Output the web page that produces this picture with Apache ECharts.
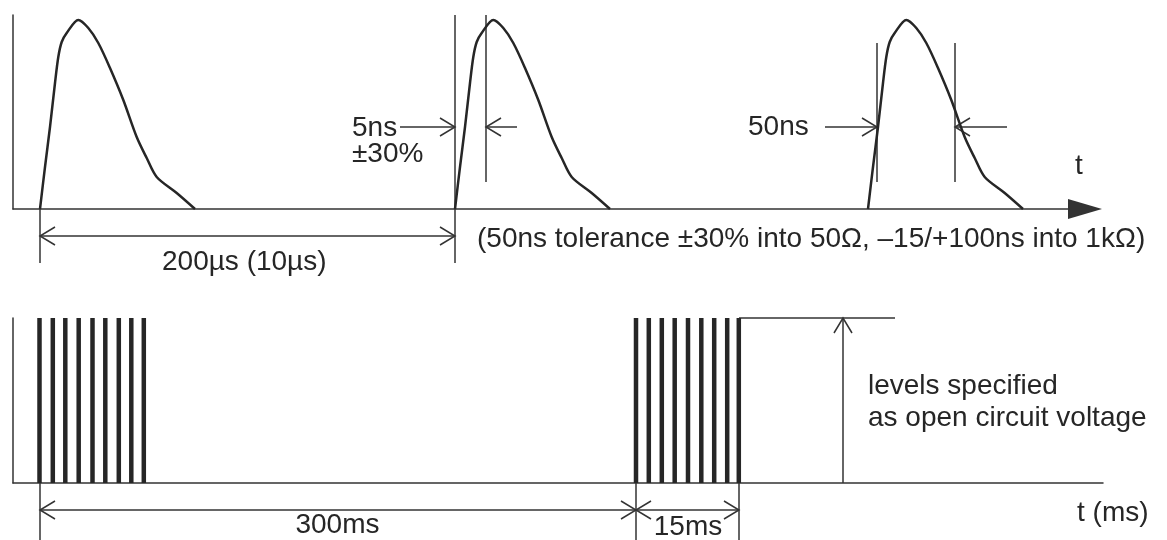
<!DOCTYPE html>
<html><head><meta charset="utf-8">
<script src="https://cdn.jsdelivr.net/npm/echarts@6/dist/echarts.min.js"></script>
<style>html,body{margin:0;padding:0;background:#fff}#c{width:1167px;height:540px}</style>
</head><body><div id="c"></div>
<script>
// ---- data, in diagram units (top panel: origin where the pulse axes meet; bottom panel: origin where the burst axes meet) ----
const pulseStarts = [27, 442, 855];
const pulseShapeDx = [0, 5, 10, 15, 18.3, 21.7, 26.7, 38.3, 48.3, 58.3, 70, 83.3, 96.7, 106.7, 116.7, 136.7, 155];
const pulseShapeLevel = [0, 42, 82, 126, 152, 167, 176, 189, 181, 166, 141, 109, 72, 51, 32, 16, 0];

const burstA = [26.5, 39.8, 52.3, 65.7, 79.5, 92.3, 105.8, 118.3, 130.8];
const burstB = [623, 635.8, 648.8, 661.7, 675, 688.3, 701.2, 714.2, 725.8];
const burstLevel = 165;

// guide segments: [x1, y1, x2, y2, arrowAtStart, arrowAtEnd]
const topMarks = [
  [442, 194, 442, -54, 0, 0],
  [473, 194, 473, 27, 0, 0],
  [387, 82, 442, 82, 0, 1],
  [504, 82, 473, 82, 0, 1],
  [864, 166, 864, 27, 0, 0],
  [942, 166, 942, 27, 0, 0],
  [812, 82, 864, 82, 0, 1],
  [994, 82, 942, 82, 0, 1],
  [27, 0, 27, -54, 0, 0],
  [27, -27, 442, -27, 1, 1]
];
const bottomMarks = [
  [726, 165, 882, 165, 0, 0],
  [830, 0, 830, 165, 0, 1],
  [27, 0, 27, -57, 0, 0],
  [623, 0, 623, -57, 0, 0],
  [726, 0, 726, -57, 0, 0],
  [27, -27, 623, -27, 1, 1],
  [623, -27, 726, -27, 1, 1]
];

// labels: [x, y, text, align]
const topLabels = [
  [339, 81, '5ns', 'left'],
  [339, 55, '±30%', 'left'],
  [735, 82, '50ns', 'left'],
  [1066, 43, 't', 'center'],
  [464, -30, '(50ns tolerance ±30% into 50Ω, –15/+100ns into 1kΩ)', 'left'],
  [149, -53, '200µs (10µs)', 'left']
];
const bottomLabels = [
  [855, 97, 'levels specified', 'left'],
  [855, 65, 'as open circuit voltage', 'left'],
  [1064, -30, 't (ms)', 'left'],
  [324.5, -42, '300ms', 'center'],
  [675, -44, '15ms', 'center']
];

// ---- styles ----
const LINE = '#333333';
const CURVE = '#262626';
const TEXT = '#262626';
const FONT = '28px "Liberation Sans", Arial, sans-serif';
const HEAD_LEN = 15, HEAD_HALF = 9;
const BAR_W = 4.5;

function segRender(params, api) {
  const p1 = api.coord([api.value(0), api.value(1)]);
  const p2 = api.coord([api.value(2), api.value(3)]);
  const children = [{ type: 'line', shape: { x1: p1[0], y1: p1[1], x2: p2[0], y2: p2[1] },
    style: { stroke: LINE, lineWidth: 1.5 } }];
  function head(tip, from) {
    const dx = tip[0] - from[0], dy = tip[1] - from[1];
    const len = Math.hypot(dx, dy) || 1;
    const ux = dx / len, uy = dy / len;
    const bx = tip[0] - ux * HEAD_LEN, by = tip[1] - uy * HEAD_LEN;
    const px = -uy, py = ux;
    children.push({ type: 'polyline', shape: { points: [[bx + px * HEAD_HALF, by + py * HEAD_HALF], tip, [bx - px * HEAD_HALF, by - py * HEAD_HALF]] },
      style: { stroke: LINE, lineWidth: 1.5, fill: null } });
  }
  if (api.value(4)) head(p1, p2);
  if (api.value(5)) head(p2, p1);
  return { type: 'group', children };
}

function makeTextRender(list) {
  return function (params, api) {
    const item = list[params.dataIndex];
    const p = api.coord([api.value(0), api.value(1)]);
    return { type: 'text', x: p[0], y: p[1],
      style: { text: item[2], font: FONT, fill: TEXT, align: item[3], verticalAlign: 'middle' } };
  };
}

function barRender(params, api) {
  const p0 = api.coord([api.value(0), 0]);
  const p1 = api.coord([api.value(0), api.value(1)]);
  return { type: 'rect', shape: { x: p0[0] - BAR_W / 2, y: p1[1], width: BAR_W, height: p0[1] - p1[1] },
    style: { fill: CURVE } };
}

const hiddenParts = { axisTick: { show: false }, axisLabel: { show: false }, splitLine: { show: false } };
const axisLineStyle = { color: LINE, width: 1.5 };

const pulseSeries = pulseStarts.map(s => ({
  type: 'line', xAxisIndex: 0, yAxisIndex: 0, symbol: 'none', smooth: 0.3, silent: true,
  lineStyle: { color: CURVE, width: 2.5 },
  data: pulseShapeDx.map((d, i) => [s + d, pulseShapeLevel[i]])
}));

const option = {
  animation: false,
  backgroundColor: '#ffffff',
  grid: [
    { left: 13, top: 15, width: 1072, height: 194 },
    { left: 13, top: 318, width: 1090, height: 165 }
  ],
  xAxis: [
    Object.assign({ type: 'value', gridIndex: 0, min: 0, max: 1072,
      axisLine: { show: true, onZero: true, symbol: ['none', 'triangle'], symbolSize: [20, 34], lineStyle: axisLineStyle } }, hiddenParts),
    Object.assign({ type: 'value', gridIndex: 1, min: 0, max: 1090,
      axisLine: { show: true, onZero: true, lineStyle: axisLineStyle } }, hiddenParts)
  ],
  yAxis: [
    Object.assign({ type: 'value', gridIndex: 0, min: 0, max: 194,
      axisLine: { show: true, lineStyle: axisLineStyle } }, hiddenParts),
    Object.assign({ type: 'value', gridIndex: 1, min: 0, max: 165,
      axisLine: { show: true, lineStyle: axisLineStyle } }, hiddenParts)
  ],
  series: pulseSeries.concat([
    { type: 'custom', xAxisIndex: 0, yAxisIndex: 0, clip: false, silent: true, renderItem: segRender, data: topMarks },
    { type: 'custom', xAxisIndex: 1, yAxisIndex: 1, clip: false, silent: true, renderItem: segRender, data: bottomMarks },
    { type: 'custom', xAxisIndex: 1, yAxisIndex: 1, clip: false, silent: true, renderItem: barRender,
      data: burstA.concat(burstB).map(u => [u, burstLevel]) },
    { type: 'custom', xAxisIndex: 0, yAxisIndex: 0, clip: false, silent: true, renderItem: makeTextRender(topLabels),
      data: topLabels.map(l => [l[0], l[1]]) },
    { type: 'custom', xAxisIndex: 1, yAxisIndex: 1, clip: false, silent: true, renderItem: makeTextRender(bottomLabels),
      data: bottomLabels.map(l => [l[0], l[1]]) }
  ])
};

const chart = echarts.init(document.getElementById('c'), null, { renderer: 'canvas' });
chart.setOption(option);
</script>
</body></html>
